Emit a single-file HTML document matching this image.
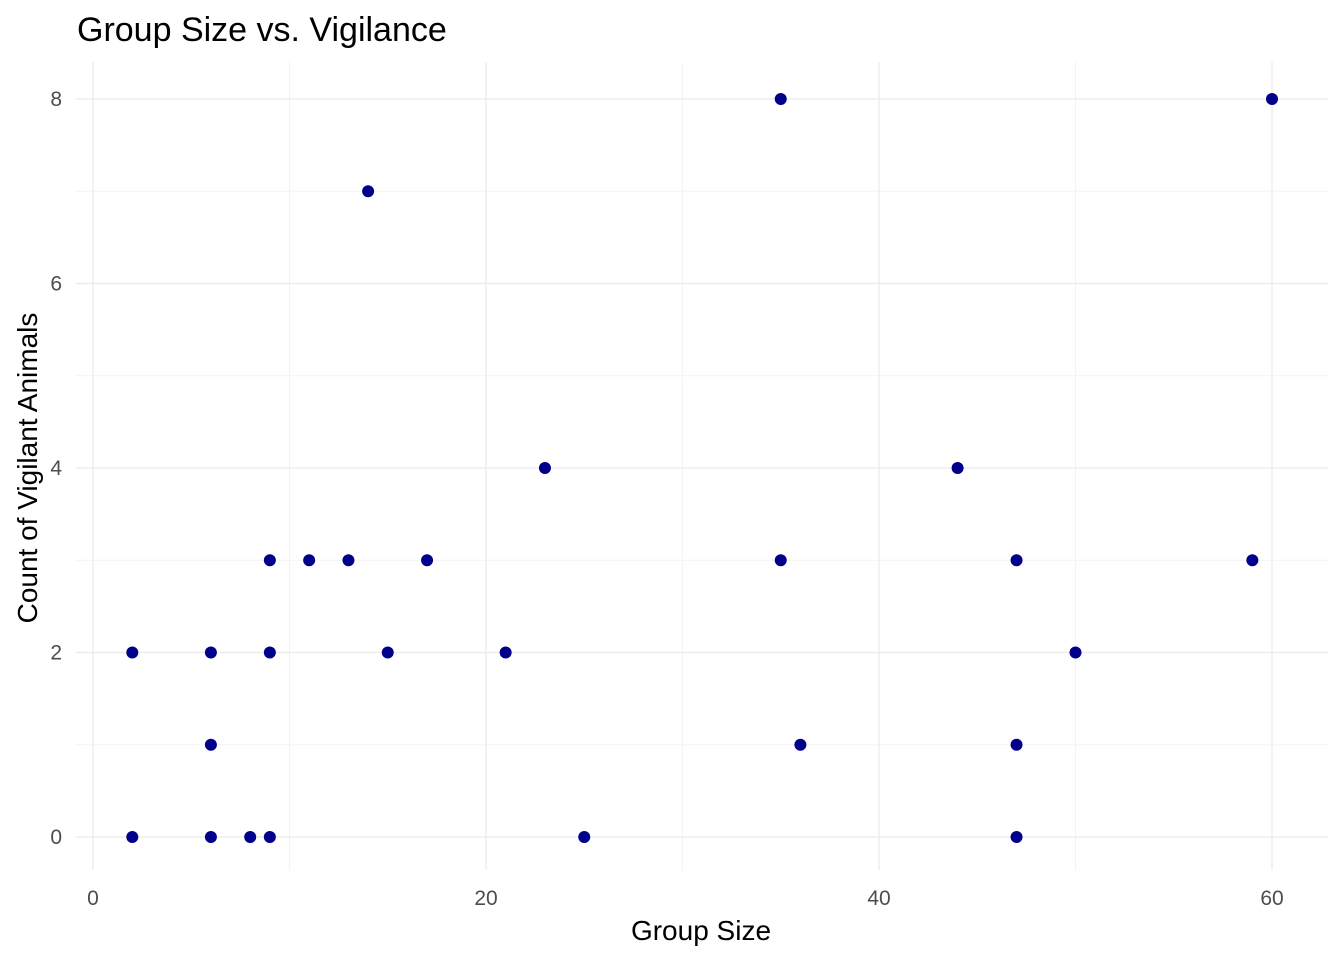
<!DOCTYPE html>
<html><head><meta charset="utf-8"><style>
html,body{margin:0;padding:0;background:#fff;}
svg{display:block;font-family:"Liberation Sans",Arial,sans-serif;}
</style></head><body>
<svg id="chart" width="1344" height="960">
<text x="77" y="41" font-size="34" fill="#000">Group Size vs. Vigilance</text>
<g id="grid"></g>
<g id="pts"></g>
<g id="ticks"></g>
<text x="701" y="940" font-size="28" text-anchor="middle" fill="#000">Group Size</text>
<text transform="translate(37,468) rotate(-90)" font-size="28" text-anchor="middle" fill="#000">Count of Vigilant Animals</text>
</svg>
<script>
const groupSize = [2,6,9,9,11,13,15,17,21,23,14,35,60,6,2,6,8,9,25,35,36,44,47,47,47,50,59];
const vigilant  = [2,2,3,2,3,3,2,3,2,4,7,8,8,1,0,0,0,0,0,3,1,4,3,1,0,2,3];
const xTicks = [0,20,40,60];
const yTicks = [0,2,4,6,8];
const xMinor = [10,30,50];
const yMinor = [1,3,5,7];
const NS="http://www.w3.org/2000/svg";
const L=76,R=1328,T=62,B=870;
function xs(v){return 93+v*(1272-93)/60;}
function ys(v){return 837-v*(837-99)/8;}
function mk(tag,attrs,parent){const e=document.createElementNS(NS,tag);for(const k in attrs)e.setAttribute(k,attrs[k]);parent.appendChild(e);return e;}
const grid=document.getElementById('grid'),pts=document.getElementById('pts'),ticks=document.getElementById('ticks');
xMinor.forEach(v=>{const l=mk('line',{x1:xs(v),x2:xs(v),y1:T,y2:B,stroke:'#f3f3f3','stroke-width':1},grid);

});
yMinor.forEach(v=>{const l=mk('line',{x1:L,x2:R,y1:ys(v),y2:ys(v),stroke:'#f3f3f3','stroke-width':1},grid);

});
xTicks.forEach(v=>{const l=mk('line',{x1:xs(v),x2:xs(v),y1:T,y2:B,stroke:'#ebebeb','stroke-width':1.3},grid);


const t=mk('text',{x:xs(v),y:905,'font-size':21,'text-anchor':'middle',fill:'#4d4d4d'},ticks);t.textContent=v;

});
yTicks.forEach(v=>{const l=mk('line',{x1:L,x2:R,y1:ys(v),y2:ys(v),stroke:'#ebebeb','stroke-width':1.3},grid);


const t=mk('text',{x:62,y:ys(v)+7,'font-size':21,'text-anchor':'end',fill:'#4d4d4d'},ticks);t.textContent=v;

});
groupSize.forEach((g,i)=>{const c=mk('circle',{cx:xs(g),cy:ys(vigilant[i]),r:6,fill:'#00008b'},pts);

});
</script>
</body></html>
